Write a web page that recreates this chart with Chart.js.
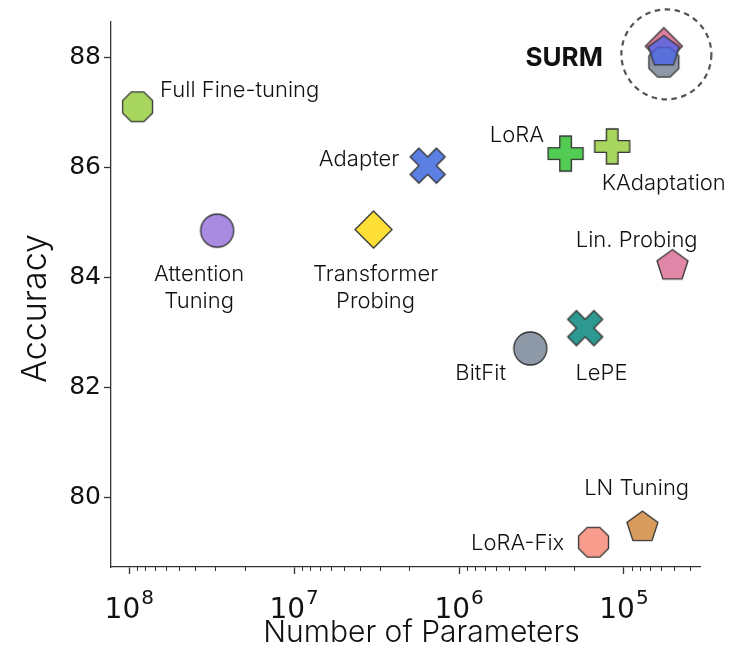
<!DOCTYPE html>
<html>
<head>
<meta charset="utf-8">
<script src="https://cdn.jsdelivr.net/npm/chart.js@4.4.1/dist/chart.umd.min.js"></script>
<style>
  html, body { margin: 0; padding: 0; background: #ffffff; }
  #wrap { width: 731px; height: 647px; }
</style>
</head>
<body>
<div id="wrap"><canvas id="chart" width="731" height="647"></canvas></div>
<script>
// ---- data ----
const methods = [
  'Full Fine-tuning', 'Attention Tuning', 'Transformer Probing', 'Adapter',
  'LoRA', 'KAdaptation', 'Lin. Probing', 'LePE', 'BitFit', 'LN Tuning',
  'LoRA-Fix', 'SURM', 'SURM', 'SURM'
];
// trainable parameters
const paramCounts = [
  8.9e7, 2.93e7, 3.3e6, 1.55e6,
  2.26e5, 1.18e5, 5.08e4, 1.72e5, 3.7e5, 7.73e4,
  1.53e5, 5.73e4, 5.73e4, 5.73e4
];
// accuracy (%)
const accuracy = [
  87.10, 84.85, 84.87, 86.03,
  86.25, 86.38, 84.21, 83.08, 82.71, 79.46,
  79.19, 88.20, 87.91, 88.10
];
const xTickValues = [1e8, 1e7, 1e6, 1e5];
const yTickValues = [80, 82, 84, 86, 88];
const xLimits = [3.46e4, 1.29e8];
const yLimits = [78.74, 88.64];

// ---- marker styles ----
const markerShapes = [
  'octagon', 'circle', 'diamond', 'xfill',
  'plus', 'plus', 'pentagon', 'xfill', 'circle', 'pentagon',
  'octagon', 'diamond', 'octagon', 'pentagon'
];
const markerColors = [
  '#a9d65f', '#a98be2', '#fddf37', '#5b7fe3',
  '#52cc52', '#a9d65f', '#e087a7', '#2e9990', '#8e99a8', '#d89b5e',
  '#f89c8e', '#e07fa0', '#8e99a8', 'rgba(74,100,232,0.78)'
];
const shapeSize = { octagon: 16.2, circle: 16.5, diamond: 18.5, xfill: 17.5, plus: 17.5, pentagon: 16.3 };

function polygon(ctx, n, r, startDeg) {
  ctx.beginPath();
  for (let k = 0; k < n; k++) {
    const a = (startDeg + k * 360 / n) * Math.PI / 180;
    const px = r * Math.cos(a), py = r * Math.sin(a);
    if (k === 0) ctx.moveTo(px, py); else ctx.lineTo(px, py);
  }
  ctx.closePath();
}
function path(ctx, pts, scale) {
  ctx.beginPath();
  pts.forEach((p, i) => { if (i === 0) ctx.moveTo(p[0] * scale, p[1] * scale); else ctx.lineTo(p[0] * scale, p[1] * scale); });
  ctx.closePath();
}
const plusPts = [[-1,-3],[1,-3],[1,-1],[3,-1],[3,1],[1,1],[1,3],[-1,3],[-1,1],[-3,1],[-3,-1],[-1,-1]];
const xPts = [[-1,-2],[0,-1],[1,-2],[2,-1],[1,0],[2,1],[1,2],[0,1],[-1,2],[-2,1],[-1,0],[-2,-1]];

function makeMarker(shape, fill) {
  const r = shapeSize[shape];
  const dim = Math.ceil(2 * r + 6);
  const cv = document.createElement('canvas');
  cv.width = dim; cv.height = dim;
  const ctx = cv.getContext('2d');
  ctx.translate(dim / 2, dim / 2);
  if (shape === 'circle') { ctx.beginPath(); ctx.arc(0, 0, r, 0, Math.PI * 2); }
  else if (shape === 'octagon') polygon(ctx, 8, r, 22.5);
  else if (shape === 'pentagon') polygon(ctx, 5, r, -90);
  else if (shape === 'diamond') polygon(ctx, 4, r, -90);
  else if (shape === 'plus') path(ctx, plusPts, r / 3);
  else if (shape === 'xfill') path(ctx, xPts, r / 2);
  ctx.fillStyle = fill;
  ctx.fill();
  ctx.lineWidth = 1.3;
  ctx.lineJoin = 'miter';
  ctx.strokeStyle = '#333333';
  ctx.stroke();
  return cv;
}
const markerImages = markerShapes.map((s, i) => makeMarker(s, markerColors[i]));

// ---- label placement (offsets from the marker, px) ----
const labelLayout = {
  'Full Fine-tuning':    { dx: 22.5, dy: -10, align: 'left' },
  'Attention Tuning':    { dx: -18, dy: 50, align: 'center', lines: ['Attention', 'Tuning'] },
  'Transformer Probing': { dx: 2, dy: 51, align: 'center', lines: ['Transformer', 'Probing'] },
  'Adapter':             { dx: -28.5, dy: 0, align: 'right' },
  'LoRA':                { dx: -21.5, dy: -11.5, align: 'right' },
  'KAdaptation':         { dx: -10.3, dy: 43.7, align: 'left' },
  'Lin. Probing':        { dx: -35.8, dy: -19.3, align: 'center' },
  'LePE':                { dx: 16.3, dy: 51.7, align: 'center' },
  'BitFit':              { dx: -24.3, dy: 31.7, align: 'right' },
  'LN Tuning':           { dx: -5.8, dy: -32.7, align: 'center' },
  'LoRA-Fix':            { dx: -29.3, dy: 8, align: 'right' }
};
const labelFont = '300 22px Inter, "Noto Sans", sans-serif';
const lineGap = 27;

const annotationPlugin = {
  id: 'methodLabels',
  afterDatasetsDraw(chart) {
    const { ctx, scales: { x, y } } = chart;
    ctx.save();
    ctx.fillStyle = '#111111';
    ctx.textBaseline = 'alphabetic';
    ctx.font = labelFont;
    methods.forEach((m, i) => {
      const lay = labelLayout[m];
      if (!lay) return;
      const px = x.getPixelForValue(paramCounts[i]);
      const py = y.getPixelForValue(accuracy[i]);
      ctx.textAlign = lay.align;
      const lines = lay.lines || [m];
      lines.forEach((t, k) => ctx.fillText(t, px + lay.dx, py + lay.dy + k * lineGap));
    });
    // highlighted method
    const idx = methods.indexOf('SURM');
    const sx = x.getPixelForValue(paramCounts[idx]);
    const sy = (y.getPixelForValue(accuracy[idx]) + y.getPixelForValue(accuracy[idx + 1]) + y.getPixelForValue(accuracy[idx + 2])) / 3;
    ctx.font = 'bold 26px Inter, "Noto Sans", sans-serif';
    ctx.textAlign = 'right';
    ctx.fillText('SURM', sx - 61, sy + 13);
    ctx.beginPath();
    ctx.setLineDash([5.5, 4.5]);
    ctx.lineWidth = 2.2;
    ctx.strokeStyle = '#555555';
    ctx.arc(sx + 2.5, sy + 1, 45, 0, Math.PI * 2);
    ctx.stroke();
    ctx.restore();
  },
  afterDraw(chart) {
    const { ctx, scales: { x }, chartArea } = chart;
    ctx.save();
    // minor log ticks
    ctx.strokeStyle = '#333333';
    ctx.lineWidth = 1;
    for (let e = 4; e <= 8; e++) {
      for (let k = 2; k <= 9; k++) {
        const v = k * Math.pow(10, e);
        if (v < xLimits[0] || v > xLimits[1]) continue;
        const px = Math.round(x.getPixelForValue(v)) + 0.5;
        ctx.beginPath();
        ctx.moveTo(px, chartArea.bottom);
        ctx.lineTo(px, chartArea.bottom + 4);
        ctx.stroke();
      }
    }
    // power-of-ten tick labels: base plus raised exponent
    ctx.fillStyle = '#111111';
    ctx.textBaseline = 'alphabetic';
    ctx.textAlign = 'left';
    const baseFont = '28px "DejaVu Sans"';
    const expFont = '20px "DejaVu Sans"';
    xTickValues.forEach(v => {
      const expo = String(Math.round(Math.log10(v)));
      ctx.font = baseFont;
      const wb = ctx.measureText('10').width;
      ctx.font = expFont;
      const we = ctx.measureText(expo).width;
      const left = x.getPixelForValue(v) - (wb + we + 1) / 2;
      ctx.font = baseFont;
      ctx.fillText('10', left, chartArea.bottom + 51);
      ctx.font = expFont;
      ctx.fillText(expo, left + wb + 1, chartArea.bottom + 37);
    });
    // axis titles
    ctx.font = '300 30px Inter, "Noto Sans", sans-serif';
    ctx.textAlign = 'center';
    ctx.fillText('Number of Parameters', (chartArea.left + chartArea.right) / 2 + 16, 642);
    ctx.translate(46, (chartArea.top + chartArea.bottom) / 2 + 14);
    ctx.rotate(-Math.PI / 2);
    ctx.font = '300 34px Inter, "Noto Sans", sans-serif';
    ctx.fillText('Accuracy', 0, 0);
    ctx.restore();
  }
};

new Chart(document.getElementById('chart'), {
  type: 'scatter',
  data: {
    datasets: [{
      data: paramCounts.map((p, i) => ({ x: p, y: accuracy[i] })),
      pointStyle: markerImages,
      pointRadius: 12,
      pointHoverRadius: 12,
      clip: false
    }]
  },
  options: {
    responsive: false,
    animation: false,
    events: [],
    layout: { padding: { top: 22, right: 31, left: 0, bottom: 0 } },
    plugins: { legend: { display: false }, tooltip: { enabled: false } },
    scales: {
      x: {
        type: 'logarithmic',
        reverse: true,
        min: xLimits[0],
        max: xLimits[1],
        afterBuildTicks: s => { s.ticks = xTickValues.map(v => ({ value: v, major: true })); },
        afterFit: s => { s.height = 80; s.paddingLeft = 0; s.paddingRight = 0; },
        ticks: {
          autoSkip: false,
          maxRotation: 0,
          padding: 6,
          color: 'rgba(0,0,0,0)',
          font: { family: '"DejaVu Sans"', size: 28 },
          callback: v => '10^' + Math.round(Math.log10(v))
        },
        grid: { drawOnChartArea: false, tickLength: 7, tickColor: '#333333', tickWidth: 1.3 },
        border: { color: '#333333', width: 1.3 }
      },
      y: {
        type: 'linear',
        min: yLimits[0],
        max: yLimits[1],
        afterBuildTicks: s => { s.ticks = yTickValues.map(v => ({ value: v })); },
        afterFit: s => { s.width = 111; s.paddingTop = 0; s.paddingBottom = 0; },
        ticks: {
          padding: 3,
          color: '#111111',
          font: { family: '"DejaVu Sans"', size: 25 },
          callback: v => String(v)
        },
        grid: { drawOnChartArea: false, tickLength: 7, tickColor: '#333333', tickWidth: 1.3 },
        border: { color: '#333333', width: 1.3 }
      }
    }
  },
  plugins: [annotationPlugin]
});
</script>
</body>
</html>
